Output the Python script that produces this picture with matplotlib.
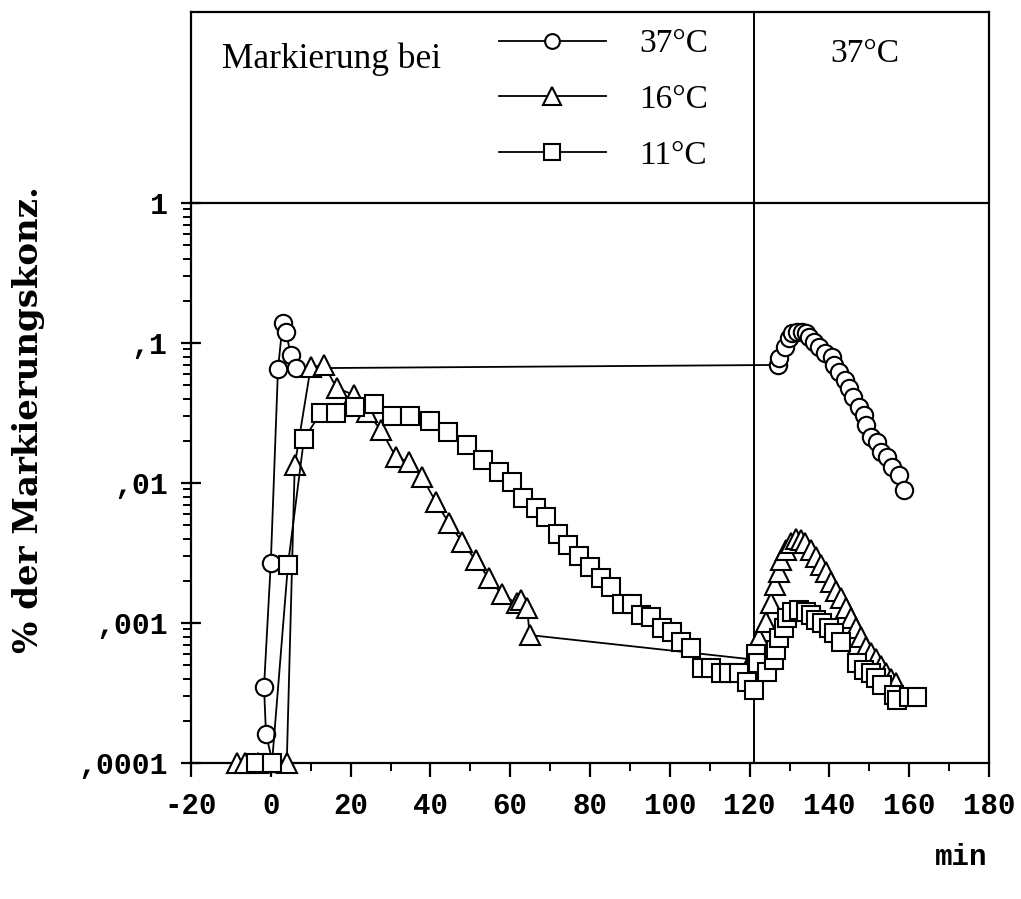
import matplotlib
matplotlib.use("Agg")
import matplotlib.pyplot as plt
from matplotlib.ticker import FixedLocator, FixedFormatter, NullFormatter

plt.rcParams['axes.unicode_minus'] = False

# ---------------- data ----------------
t37 = [0.5, -1.2, -1.7, 0.0, 1.8, 3.0, 3.8, 5.0, 6.3,
       127.1, 127.3, 128.8, 129.8, 130.6, 131.8, 133.1, 134.1, 134.8, 136.1,
       137.3, 138.8, 140.6, 141.1, 142.4, 143.9, 144.9, 145.9, 147.4, 148.6,
       149.1, 150.4, 151.9, 152.9, 154.4, 155.6, 157.4, 158.6]
c37 = [1e-4, 1.6e-4, 3.5e-4, 2.7e-3, 0.065, 0.14, 0.12, 0.082, 0.066,
       0.0697, 0.078, 0.0936, 0.109, 0.118, 0.12, 0.12, 0.118, 0.110, 0.1016,
       0.0936, 0.085, 0.079, 0.0697, 0.062, 0.0544, 0.0477, 0.0411, 0.0349, 0.0306,
       0.026, 0.0213, 0.0196, 0.0166, 0.0153, 0.013, 0.0114, 0.0089]

t16 = [-8.5, -6.5, -3.3, 4.0, 6.0, 10.0, 13.3, 16.5, 20.8, 24.0,
       27.6, 31.3, 34.6, 37.9, 41.4, 44.6, 47.9, 51.4, 54.6, 57.9,
       61.7, 62.7, 64.2, 64.9, 120.5,
       122.3, 124.0, 125.3, 126.3, 127.3, 127.8, 129.0, 130.3, 131.6, 132.8,
       134.0, 135.3, 136.6, 137.8, 139.1, 140.4, 141.6, 142.9, 144.1, 145.4,
       146.6, 147.9, 149.1, 150.4, 151.6, 152.9, 154.1, 155.4, 156.6]
c16 = [1e-4, 1e-4, 1e-4, 1e-4, 0.0134, 0.067, 0.070, 0.0477, 0.0426, 0.032,
       0.024, 0.0154, 0.0141, 0.011, 0.0073, 0.0052, 0.0038, 0.0028, 0.0021, 0.0016,
       0.00138, 0.00145, 0.00129, 0.00082, 0.00055,
       0.00078, 0.00102, 0.00138, 0.00187, 0.0023, 0.0028, 0.0033, 0.0037, 0.0040, 0.0039,
       0.0037, 0.0033, 0.00295, 0.0026, 0.0023, 0.00196, 0.0017, 0.0015, 0.00129, 0.00109,
       0.00092, 0.00079, 0.00067, 0.00061, 0.00055, 0.00049, 0.00044, 0.000396, 0.00037]

t11 = [-3.8, 0.3, 4.3, 8.3, 12.5, 16.3, 21.0, 25.8, 30.3, 35.0,
       39.8, 44.4, 49.1, 53.1, 57.1, 60.4, 63.2, 66.4, 68.9, 71.9,
       74.4, 77.2, 79.9, 82.7, 85.2, 88.0, 90.5, 92.7, 95.2, 98.0,
       100.5, 102.8, 105.3, 108.0, 110.3, 112.8, 114.8, 117.3, 119.3, 121.1,
       121.5, 122.0, 124.3, 126.1, 126.6, 127.3, 128.6, 129.3, 130.6, 132.3,
       134.1, 135.3, 136.6, 138.1, 139.8, 141.1, 142.9, 146.9, 148.6, 150.4,
       151.6, 153.1, 156.1, 156.9, 159.9, 161.9]
c11 = [1e-4, 1e-4, 2.6e-3, 0.0206, 0.0316, 0.0316, 0.035, 0.0366, 0.030, 0.030,
       0.0277, 0.0231, 0.0187, 0.0146, 0.012, 0.0102, 0.0078, 0.0066, 0.0057, 0.0043,
       0.0036, 0.0030, 0.0025, 0.0021, 0.0018, 0.00137, 0.00137, 0.00114, 0.0011, 0.00092,
       0.00086, 0.00073, 0.00066, 0.00048, 0.00048, 0.00044, 0.00044, 0.00044, 0.00038, 0.00033,
       0.00060, 0.00052, 0.000447, 0.000544, 0.000641, 0.000781, 0.00092, 0.00109, 0.0012, 0.00124,
       0.0012, 0.00114, 0.00105, 0.0010, 0.00092, 0.00085, 0.00073, 0.00052, 0.00046, 0.00044,
       0.000405, 0.00036, 0.000306, 0.00028, 0.000296, 0.000296]

series_labels = ["37°C", "16°C", "11°C"]
x_ticks = [-20, 0, 20, 40, 60, 80, 100, 120, 140, 160, 180]
x_ticklabels = ["-20", "0", "20", "40", "60", "80", "100", "120", "140", "160", "180"]
y_ticks = [1e-4, 1e-3, 1e-2, 1e-1, 1]
y_ticklabels = [",0001", ",001", ",01", ",1", "1"]
switch_time = 121
y_label = "% der Markierungskonz."
x_label = "min"
legend_title = "Markierung bei"
right_title = "37°C"

# ---------------- figure ----------------
W, H = 1021, 899
fig = plt.figure(figsize=(W / 100, H / 100), dpi=100)
ax = fig.add_axes([191 / W, 1 - 763 / H, 798 / W, (763 - 12) / H])

ax.set_yscale('log')
ax.set_xlim(-20, 180)
ax.set_ylim(1e-4, 10 ** ((763 - 12) / 140 - 4))

mono = 'Liberation Mono'
lw = 1.3
mew = 1.5
ax.plot(t37, c37, '-', color='black', lw=lw, marker='o', ms=12.5, mfc='white',
        mec='black', mew=mew, label=series_labels[0], zorder=3, clip_on=False)
ax.plot(t16, c16, '-', color='black', lw=lw, marker='^', ms=15, mfc='white',
        mec='black', mew=mew, label=series_labels[1], zorder=4, clip_on=False)
ax.plot(t11, c11, '-', color='black', lw=lw, marker='s', ms=13, mfc='white',
        mec='black', mew=mew, label=series_labels[2], zorder=5, clip_on=False)

ax.axvline(switch_time, color='black', lw=1.4, zorder=2)
ax.axhline(1, color='black', lw=1.6, zorder=2)

for s in ax.spines.values():
    s.set_linewidth(1.6)

ax.xaxis.set_major_locator(FixedLocator(x_ticks))
ax.xaxis.set_major_formatter(FixedFormatter(x_ticklabels))
ax.xaxis.set_minor_locator(FixedLocator([v + 10 for v in x_ticks[:-1]]))
ax.xaxis.set_minor_formatter(NullFormatter())

minor_y = [m * d for d in [1e-4, 1e-3, 1e-2, 1e-1] for m in range(2, 10)]
ax.yaxis.set_major_locator(FixedLocator(y_ticks))
ax.yaxis.set_major_formatter(FixedFormatter(y_ticklabels))
ax.yaxis.set_minor_locator(FixedLocator(minor_y))
ax.yaxis.set_minor_formatter(NullFormatter())

ax.tick_params(axis='x', which='major', direction='out', length=10, width=1.6,
               pad=11, labelsize=21)
ax.tick_params(axis='x', which='minor', direction='out', length=6, width=1.4)
ax.tick_params(axis='y', which='major', direction='inout', length=14, width=1.6,
               pad=10, labelsize=21.5)
ax.tick_params(axis='y', which='minor', direction='out', length=6, width=1.4)
for lab in ax.get_xticklabels() + ax.get_yticklabels():
    lab.set_family(mono)
    lab.set_weight('bold')

fig.text(29 / W, 1 - 420 / H, y_label, rotation=90, ha='center', va='center',
         family='DejaVu Serif', weight='bold', fontsize=24.5)
fig.text(961 / W, 1 - 857 / H, x_label, ha='center', va='center',
         family=mono, weight='bold', fontsize=21)

fig.text(222 / W, 1 - 68 / H, legend_title, ha='left', va='baseline',
         family='Liberation Serif', fontsize=25.5)
fig.text(865 / W, 1 - 62 / H, right_title, ha='center', va='baseline',
         family='Liberation Serif', fontsize=24)

leg = ax.legend(loc='upper left', bbox_to_anchor=(499 / W, 1 - 29 / H),
                bbox_transform=fig.transFigure, frameon=False,
                prop={'family': 'Liberation Serif', 'size': 24},
                handlelength=3.2, handletextpad=1.0, labelspacing=0.75,
                borderpad=0, borderaxespad=0, markerscale=0.85)

fig.savefig('out.png', dpi=100)
